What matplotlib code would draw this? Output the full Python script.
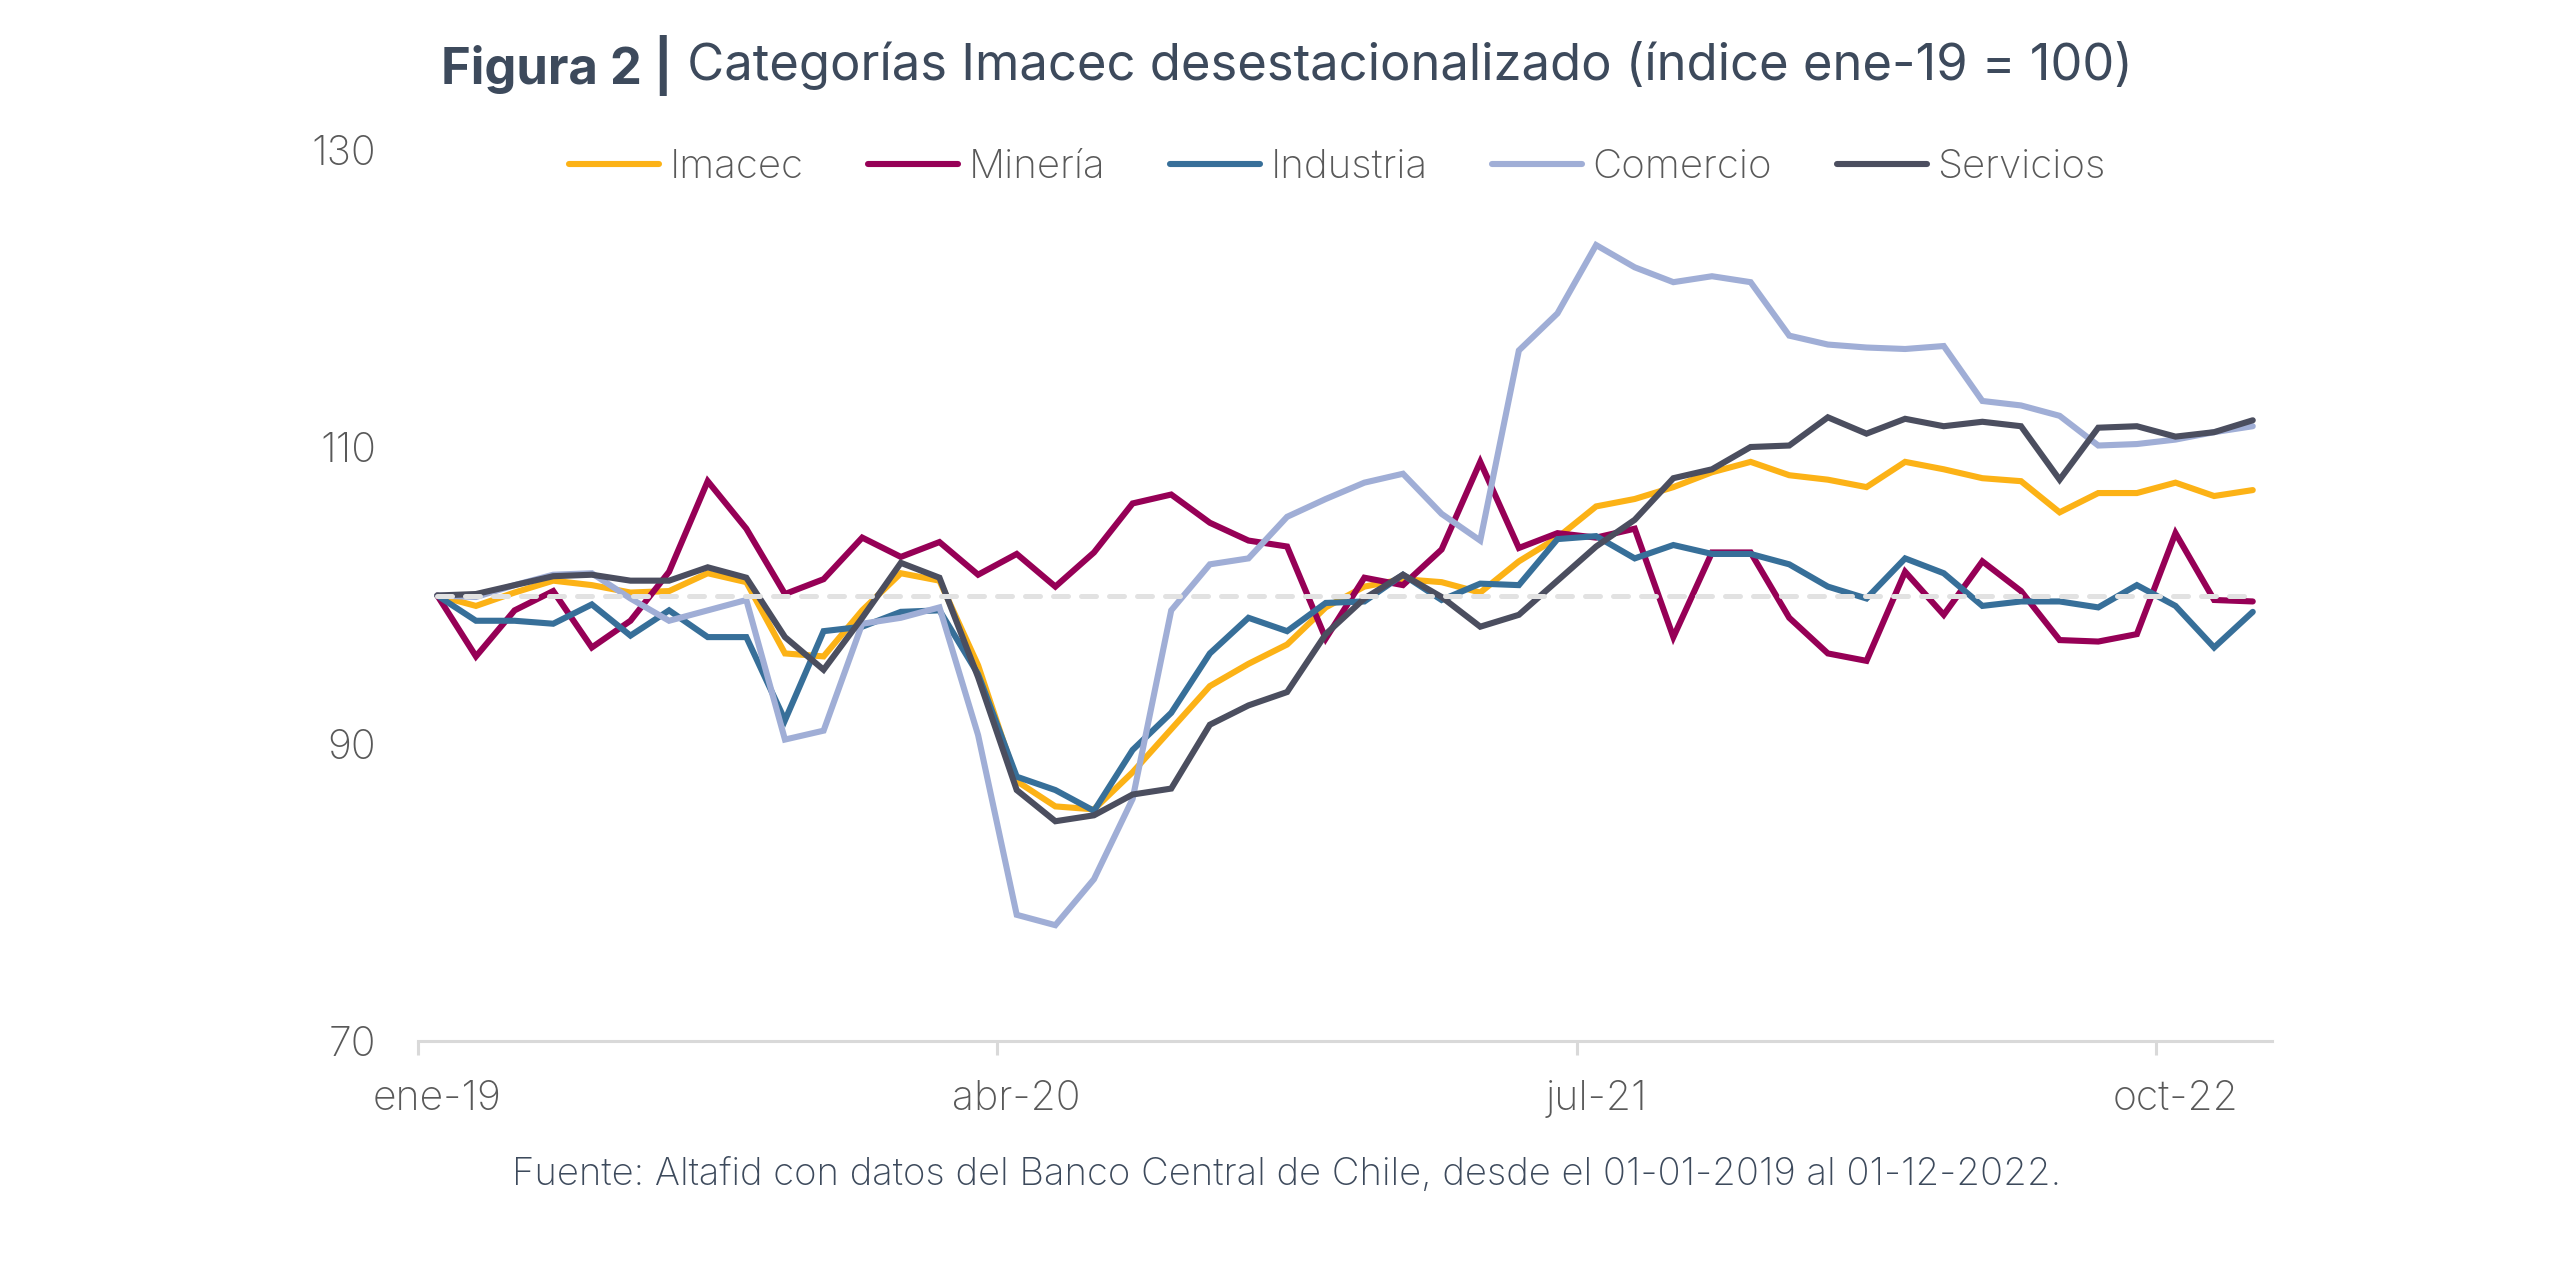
import matplotlib
matplotlib.use('Agg')
import matplotlib.pyplot as plt

plt.rcParams['font.family'] = ['Inter', 'DejaVu Sans']

# meses ene-19 .. dic-22
meses = ['ene-19', 'feb-19', 'mar-19', 'abr-19', 'may-19', 'jun-19', 'jul-19', 'ago-19', 'sept-19', 'oct-19', 'nov-19', 'dic-19',
         'ene-20', 'feb-20', 'mar-20', 'abr-20', 'may-20', 'jun-20', 'jul-20', 'ago-20', 'sept-20', 'oct-20', 'nov-20', 'dic-20',
         'ene-21', 'feb-21', 'mar-21', 'abr-21', 'may-21', 'jun-21', 'jul-21', 'ago-21', 'sept-21', 'oct-21', 'nov-21', 'dic-21',
         'ene-22', 'feb-22', 'mar-22', 'abr-22', 'may-22', 'jun-22', 'jul-22', 'ago-22', 'sept-22', 'oct-22', 'nov-22', 'dic-22']

imacec = [100.0, 99.3, 100.2, 101.0, 100.7, 100.2, 100.3, 101.5, 100.9, 96.1, 95.9, 99.0,
          101.5, 101.0, 95.3, 87.5, 85.8, 85.6, 88.1, 91.0, 93.9, 95.4, 96.7, 99.2,
          100.6, 101.1, 100.9, 100.2, 102.3, 103.9, 106.0, 106.5, 107.3, 108.3, 109.0, 108.1,
          107.8, 107.3, 109.0, 108.5, 107.9, 107.7, 105.6, 106.9, 106.9, 107.6, 106.7, 107.1]
mineria = [100.0, 95.9, 99.0, 100.3, 96.5, 98.3, 101.6, 107.7, 104.5, 100.1, 101.1, 103.9,
           102.6, 103.6, 101.4, 102.8, 100.6, 102.9, 106.2, 106.8, 104.9, 103.7, 103.3, 97.1,
           101.2, 100.7, 103.1, 109.0, 103.2, 104.2, 103.9, 104.5, 97.2, 102.9, 102.9, 98.5,
           96.1, 95.6, 101.6, 98.7, 102.3, 100.3, 97.0, 96.9, 97.4, 104.2, 99.7, 99.6]
industria = [100.0, 98.3, 98.3, 98.1, 99.4, 97.3, 99.0, 97.2, 97.2, 91.6, 97.6, 97.9,
             98.9, 99.0, 94.7, 87.8, 86.9, 85.5, 89.6, 92.1, 96.1, 98.5, 97.6, 99.5,
             99.6, 101.4, 99.7, 100.8, 100.7, 103.8, 104.0, 102.5, 103.4, 102.8, 102.8, 102.1,
             100.6, 99.8, 102.5, 101.5, 99.3, 99.6, 99.6, 99.2, 100.7, 99.3, 96.5, 98.9]
comercio = [100.0, 99.9, 100.7, 101.4, 101.5, 99.8, 98.3, 99.0, 99.7, 90.3, 90.9, 98.1,
            98.5, 99.2, 90.6, 78.5, 77.8, 80.9, 86.3, 99.0, 102.1, 102.5, 105.3, 106.5,
            107.6, 108.2, 105.5, 103.7, 116.5, 119.0, 123.6, 122.1, 121.1, 121.5, 121.1, 117.5,
            116.9, 116.7, 116.6, 116.8, 113.1, 112.8, 112.1, 110.1, 110.2, 110.5, 111.0, 111.4]
servicios = [100.0, 100.1, 100.7, 101.3, 101.4, 101.0, 101.0, 101.9, 101.2, 97.2, 95.0, 98.5,
             102.2, 101.2, 94.5, 86.9, 84.8, 85.2, 86.6, 87.0, 91.3, 92.6, 93.5, 97.4,
             99.8, 101.4, 99.9, 97.9, 98.7, 101.0, 103.3, 105.1, 107.9, 108.5, 110.0, 110.1,
             112.0, 110.9, 111.9, 111.4, 111.7, 111.4, 107.8, 111.3, 111.4, 110.7, 111.0, 111.8]
base_idx = 100

nombres = ['Imacec', 'Minería', 'Industria', 'Comercio', 'Servicios']
colores = ['#fcb216', '#960056', '#376f99', '#a0aed6', '#4b4e5f']
yticks = [70, 90, 110, 130]
paso = 15  # una etiqueta cada 15 meses

txt_gris = '#595959'
titulo_col = '#3d4a5c'
eje_col = '#d9d9d9'

fig = plt.figure(figsize=(25.74, 12.68), dpi=100)
ax = fig.add_axes([0.1624, 0.179, 0.7203, 0.7027])

x = list(range(len(meses)))
for vals, nom, col in zip([imacec, mineria, industria, comercio, servicios], nombres, colores):
    ax.plot(x, vals, color=col, lw=4.4, label=nom, solid_joinstyle='miter', solid_capstyle='round')

# linea base 100
ax.plot(x, [base_idx] * len(x), color='#e2e2e2', lw=3.6, dashes=(3, 2.6),
        dash_capstyle='round', zorder=5)

ax.set_xlim(-0.5, len(meses) - 0.5)
ax.set_ylim(yticks[0], yticks[-1])
ax.set_yticks(yticks)

ax.set_xticks(x[::paso])
ax.set_xticklabels(meses[::paso])
ax.set_xticks([i - 0.5 for i in x[::paso]], minor=True)

for s in ['top', 'right', 'left']:
    ax.spines[s].set_visible(False)
ax.spines['bottom'].set_color(eje_col)
ax.spines['bottom'].set_linewidth(2.2)

ax.tick_params(axis='x', which='major', length=0, pad=28, labelsize=29.5, labelcolor=txt_gris)
ax.tick_params(axis='x', which='minor', length=10, width=2.2, color=eje_col)
ax.tick_params(axis='y', length=0, pad=30, labelsize=29.5, labelcolor=txt_gris)
for lab in ax.get_xticklabels() + ax.get_yticklabels():
    lab.set_fontweight('light')

leg = fig.legend(loc='center', bbox_to_anchor=(0.5195, 0.868), ncol=5, frameon=False,
                 fontsize=29, handlelength=2.25, handletextpad=0.25, columnspacing=1.6)
for t in leg.get_texts():
    t.set_color(txt_gris)
    t.set_fontweight('light')

# titulo en dos partes (negrita + normal), centrado
r = fig.canvas.get_renderer()
t1 = fig.text(0, 0.948, 'Figura 2 |', fontsize=36.5, fontweight='bold', color=titulo_col, va='center')
t2 = fig.text(0, 0.948, ' Categorías Imacec desestacionalizado (índice ene-19 = 100)', fontsize=36.5,
              color=titulo_col, va='center')
w1 = t1.get_window_extent(r).width
w2 = t2.get_window_extent(r).width
W = fig.get_figwidth() * fig.dpi
x0 = (W - w1 - w2) / 2
t1.set_x(x0 / W)
t2.set_x((x0 + w1) / W)

fig.text(0.5, 0.0733, 'Fuente: Altafid con datos del Banco Central de Chile, desde el 01-01-2019 al 01-12-2022.',
         ha='center', va='center', fontsize=27.5, color=titulo_col, fontweight='light')

fig.savefig('out.png', dpi=100)
